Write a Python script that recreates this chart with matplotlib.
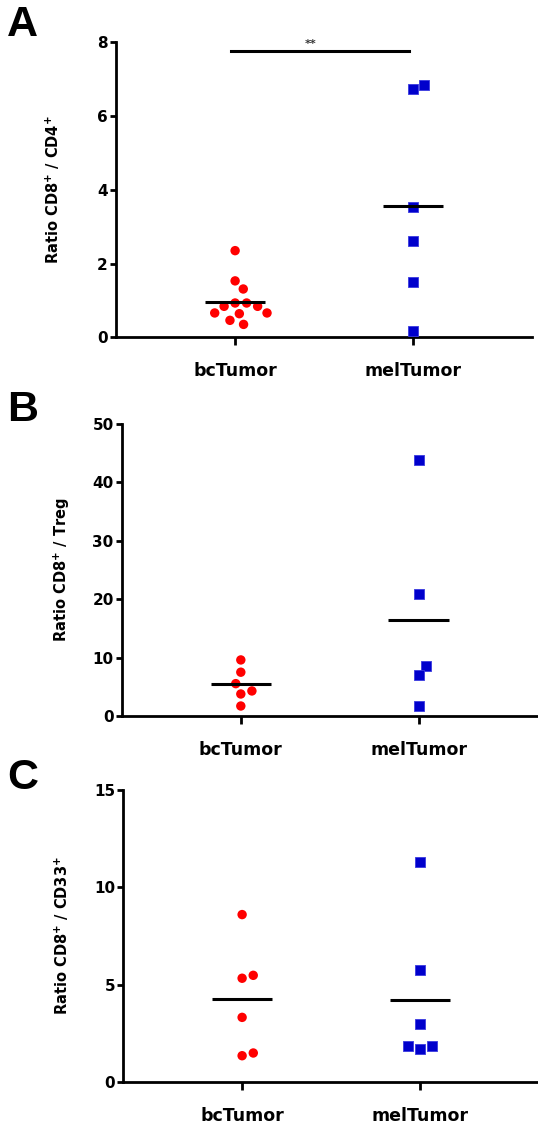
import numpy as np
import matplotlib
matplotlib.use('Agg')
import matplotlib.pyplot as plt

# ---------------- data ----------------
groups = ['bcTumor', 'melTumor']

cd8_cd4_bc = [2.35, 1.53, 1.31, 0.93, 0.84, 0.84, 0.93, 0.66, 0.64, 0.66, 0.46, 0.35]
cd8_cd4_mel = [6.74, 6.84, 3.54, 2.61, 1.50, 0.17]

cd8_treg_bc = [9.6, 7.5, 5.54, 4.29, 3.77, 1.71]
cd8_treg_mel = [43.8, 20.9, 8.63, 7.03, 1.71]

cd8_cd33_bc = [8.6, 5.33, 5.48, 3.32, 1.35, 1.49]
cd8_cd33_mel = [11.3, 5.75, 2.96, 1.85, 1.70, 1.85]

ylabels = [r'Ratio CD8$^{+}$ / CD4$^{+}$',
           r'Ratio CD8$^{+}$ / Treg',
           r'Ratio CD8$^{+}$ / CD33$^{+}$']
yticks = [[0, 2, 4, 6, 8], [0, 10, 20, 30, 40, 50], [0, 5, 10, 15]]
panel_letters = ['A', 'B', 'C']
significance = '**'

# ---------------- style ----------------
plt.rcParams['font.family'] = ['DejaVu Sans']
plt.rcParams['font.weight'] = 'bold'
plt.rcParams['mathtext.default'] = 'regular'

W, H = 538, 1127
fig = plt.figure(figsize=(W / 100, H / 100), dpi=100)

# axes boxes in pixels: left, top, bottom
boxes = [(116, 42.3, 337.3), (121.7, 424, 716), (123, 790, 1082)]
ax_w = 416
label_x = [-0.13, -0.12, -0.125]
letter_base = [36, 421, 789]

red = '#FF0000'
blue = '#0000CC'


def swarm(ax, xc, vals, d, descending=False):
    vals = np.asarray(vals, float)
    pts = ax.transData.transform(np.column_stack([np.full(len(vals), xc), vals]))
    ys = pts[:, 1]
    x0 = pts[0, 0]
    order = np.argsort(ys)
    if descending:
        order = order[::-1]
    placed = []
    xs = np.zeros(len(vals))
    for i in order:
        y = ys[i]
        cands = [0.0]
        for (px, py) in placed:
            dy = abs(y - py)
            if dy < d:
                dx = np.sqrt(d * d - dy * dy)
                cands += [px - dx, px + dx]
        cands = sorted(set(cands), key=lambda c: (abs(c), -c))
        chosen = cands[-1]
        for c in cands:
            if all((c - px) ** 2 + (y - py) ** 2 >= d * d - 1e-6 for px, py in placed):
                chosen = c
                break
        placed.append((chosen, y))
        xs[i] = chosen
    data = ax.transData.inverted().transform(np.column_stack([x0 + xs, ys]))
    return data[:, 0]


datasets = [(cd8_cd4_bc, cd8_cd4_mel), (cd8_treg_bc, cd8_treg_mel), (cd8_cd33_bc, cd8_cd33_mel)]

for k, ((bc, mel), (left, top, bottom)) in enumerate(zip(datasets, boxes)):
    ax = fig.add_axes([left / W, 1 - bottom / H, ax_w / W, (bottom - top) / H])
    ax.set_xlim(-0.67, 1.67)
    ax.set_ylim(yticks[k][0], yticks[k][-1])
    ax.set_yticks(yticks[k])
    ax.set_xticks([0, 1])
    ax.set_xticklabels(groups, fontsize=12.5, fontweight='bold')
    for lab in ax.get_yticklabels():
        lab.set_fontsize(11)
        lab.set_fontweight('bold')
    for s in ['top', 'right']:
        ax.spines[s].set_visible(False)
    for s in ['left', 'bottom']:
        ax.spines[s].set_linewidth(2)
    ax.tick_params(axis='y', length=4.3, width=2, pad=1.5)
    ax.tick_params(axis='x', length=5.8, width=2, pad=12)
    ax.set_ylabel(ylabels[k], fontsize=10.5, fontweight='bold')
    ax.yaxis.set_label_coords(label_x[k], 0.5)

    xb = swarm(ax, 0, bc, 11.5, descending=(k == 0))
    xm = swarm(ax, 1, mel, 12.0)
    ax.scatter(xb, bc, s=46, marker='o', color=red, edgecolors='none', zorder=3, clip_on=False)
    ax.scatter(xm, mel, s=62, marker='s', facecolor=blue, edgecolors='#3a3ae0', linewidths=0.6,
               zorder=3, clip_on=False)
    for xc, vals in [(0, bc), (1, mel)]:
        ax.hlines(np.mean(vals), xc - 0.17, xc + 0.17, colors='black', linewidth=2.2, zorder=4)

    if k == 0:
        ax.plot([-0.025, 0.98], [7.76, 7.76], color='black', linewidth=2.2, clip_on=False)
        ax.text(0.425, 7.83, significance, ha='center', va='bottom', fontsize=8,
                color='#333333', fontweight='bold')

    fig.text(7 / W, 1 - letter_base[k] / H, panel_letters[k], fontsize=31, fontweight='bold',
             family='Liberation Sans', ha='left', va='baseline')

fig.savefig('out.png', dpi=100)
